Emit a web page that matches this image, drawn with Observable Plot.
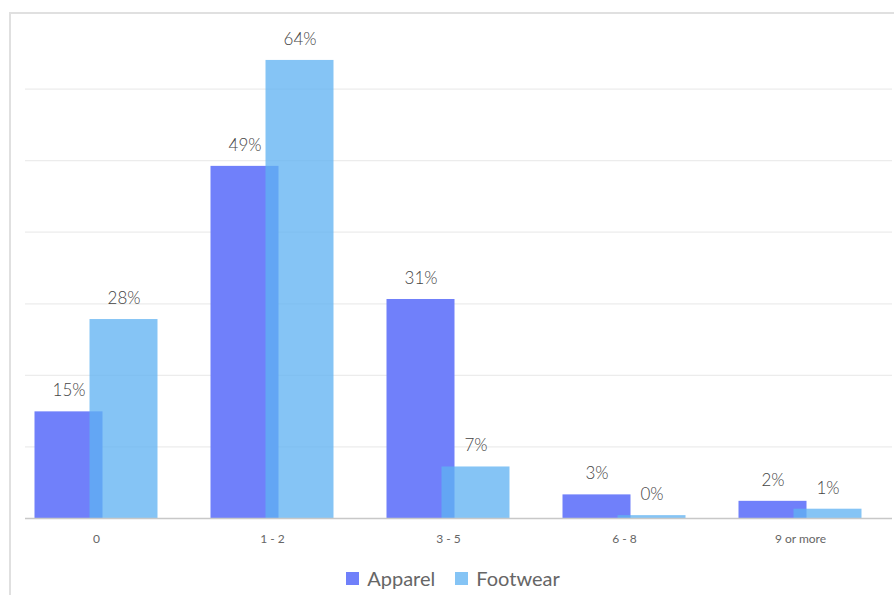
<!DOCTYPE html>
<html>
<head>
<meta charset="utf-8">
<script src="https://cdn.jsdelivr.net/npm/d3@7"></script>
<script src="https://cdn.jsdelivr.net/npm/@observablehq/plot@0.6"></script>
<style>
  html, body { margin: 0; padding: 0; background: #fff; overflow: hidden; }
  body { width: 894px; height: 595px; position: relative; font-family: Lato, "Open Sans", sans-serif; }
  #frame {
    position: absolute; left: 9px; top: 12px; width: 920px; height: 620px;
    border-top: 2px solid #e0e0e0; border-left: 2px solid #e0e0e0;
  }
  #chart { position: absolute; left: 0; top: 0; }
  #chart svg .value-label text { font-weight: 300; }
  #legend {
    position: absolute; left: 0; top: 566px; width: 894px;
    display: flex; justify-content: center; gap: 20px; padding-left: 12px; box-sizing: border-box;
    font-size: 20px; color: #666; font-weight: 400;
  }
  #legend .item { display: flex; align-items: center; gap: 8px; }
  #legend .sw { width: 13px; height: 13px; display: inline-block; }
</style>
</head>
<body>
<div id="frame"></div>
<div id="chart"></div>
<div id="legend"></div>
<script>
// Number of items bought, share of respondents (%)
const categories = ["0", "1 - 2", "3 - 5", "6 - 8", "9 or more"];
const apparel  = [14.9, 49.2, 30.6, 3.3, 2.4];
const footwear = [27.8, 64.0, 7.2, 0.4, 1.3];
const seriesNames = ["Apparel", "Footwear"];
const seriesColors = ["#7080fa", "#5eb1f2"];
const seriesOpacity = [1, 0.76];
const gridTicks = [10, 20, 30, 40, 50, 60];

const rowsA = categories.map((c, i) => ({cat: c, value: apparel[i]}));
const rowsF = categories.map((c, i) => ({cat: c, value: footwear[i]}));
const pct = d => `${Math.round(d.value)}%`;

const labelStyle = {fontSize: 17, fill: "#444", fontFamily: "Lato, sans-serif", className: "value-label"};

const chart = Plot.plot({
  width: 894,
  height: 560,
  marginLeft: 25,
  marginRight: 2,
  marginTop: 17,
  marginBottom: 42,
  style: {fontFamily: "Lato, sans-serif", background: "transparent"},
  x: {domain: categories, range: [5.5, 890.2], paddingInner: 0.615, paddingOuter: 0.3075, label: null},
  y: {domain: [0, 70], axis: null},
  marks: [
    Plot.gridY(gridTicks, {stroke: "#ececec", strokeOpacity: 1, strokeWidth: 1.2}),
    Plot.barY(rowsA, {x: "cat", y: "value", dx: -27.5, fill: seriesColors[0], fillOpacity: seriesOpacity[0]}),
    Plot.barY(rowsF, {x: "cat", y: "value", dx: 27.5, fill: seriesColors[1], fillOpacity: seriesOpacity[1]}),
    Plot.ruleY([0], {stroke: "#c8c8c8", strokeWidth: 1.5}),
    Plot.text(rowsA, {x: "cat", y: "value", dx: -27.5, dy: -21, text: pct, ...labelStyle}),
    Plot.text(rowsF, {x: "cat", y: "value", dx: 27.5, dy: -21, text: pct, ...labelStyle}),
    Plot.axisX({tickSize: 0, tickPadding: 16, fontSize: 12, fill: "#666", label: null, style: {letterSpacing: "0.6px"}})
  ]
});
document.getElementById("chart").appendChild(chart);

// Legend
const legend = document.getElementById("legend");
seriesNames.forEach((name, i) => {
  const item = document.createElement("span");
  item.className = "item";
  const sw = document.createElement("span");
  sw.className = "sw";
  sw.style.background = seriesColors[i];
  sw.style.opacity = seriesOpacity[i];
  const lab = document.createElement("span");
  lab.textContent = name;
  item.appendChild(sw);
  item.appendChild(lab);
  legend.appendChild(item);
});
</script>
</body>
</html>
